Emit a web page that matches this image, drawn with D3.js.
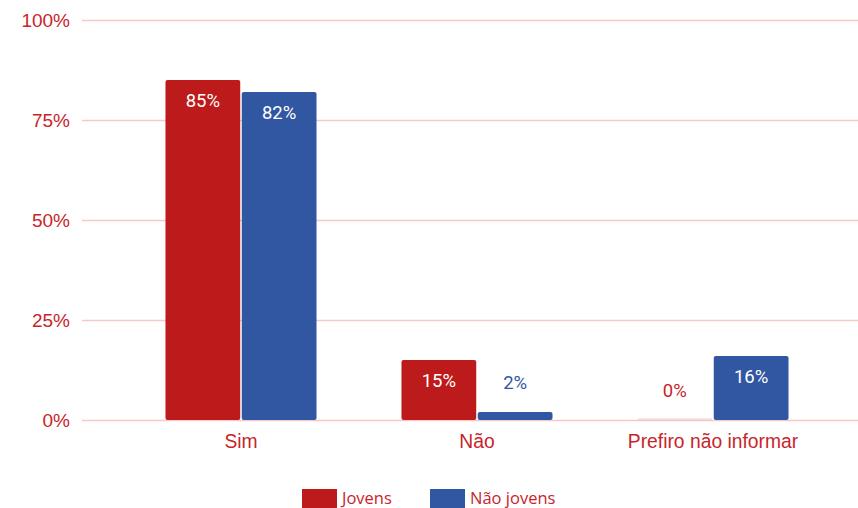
<!DOCTYPE html>
<html><head><meta charset="utf-8">
<script src="https://cdn.jsdelivr.net/npm/d3@7"></script>
<style>body{margin:0;background:#fff}svg{display:block}</style>
</head><body><svg id="c" width="858" height="508"></svg>
<script>
const categories = ["Sim", "Não", "Prefiro não informar"];
const seriesNames = ["Jovens", "Não jovens"];
const jovens = [85, 15, 0];
const naoJovens = [82, 2, 16];
const tickValues = [0, 25, 50, 75, 100];

const colors = ["#bd1b1b", "#3156a2"];
const textRed = "#c8242b";
const svg = d3.select("#c");
const y = d3.scaleLinear().domain([0, 100]).range([420, 20]);
const x0 = d3.scaleBand().domain(categories).range([123, 831]).paddingInner(0.36).paddingOuter(0.18);
const x1 = d3.scaleBand().domain(seriesNames).range([0, x0.bandwidth()]).paddingInner(0.02);

// gridlines
const yAxis = d3.axisLeft(y).tickValues(tickValues).tickFormat(d => d + "%").tickSize(-(858 - 82)).tickPadding(12);
const g = svg.append("g").attr("transform", "translate(82,0)").call(yAxis);
g.select(".domain").remove();
g.selectAll(".tick line").attr("stroke", "#f5c9c9").attr("stroke-width", 1.3);
g.selectAll(".tick text").attr("fill", textRed).style("font-family", "Liberation Sans, Arial, sans-serif").style("font-size", "19px");

const data = categories.map((c, i) => ({cat: c, vals: [jovens[i], naoJovens[i]]}));
const groups = svg.append("g").selectAll("g").data(data).join("g")
  .attr("transform", d => `translate(${x0(d.cat)},0)`);

groups.selectAll("rect").data(d => d.vals.map((v, j) => ({v, s: seriesNames[j], j}))).join("rect")
  .attr("x", d => x1(d.s))
  .attr("width", x1.bandwidth())
  .attr("y", d => d.v > 0 ? y(d.v) : y(0) - 1.5)
  .attr("height", d => d.v > 0 ? y(0) - y(d.v) : 1.5)
  .attr("rx", 2)
  .attr("fill", d => d.v > 0 ? colors[d.j] : "#f2d6d6");

groups.selectAll("text.v").data(d => d.vals.map((v, j) => ({v, s: seriesNames[j], j}))).join("text")
  .attr("class", "v")
  .attr("x", d => x1(d.s) + x1.bandwidth() / 2)
  .attr("y", d => (y(0) - y(d.v)) > 30 ? y(d.v) + 27 : y(d.v) - 23)
  .attr("text-anchor", "middle")
  .attr("fill", d => (y(0) - y(d.v)) > 30 ? "#fff" : d.j === 0 ? textRed : colors[1])
  .style("font-family", "Roboto, sans-serif").style("font-size", "18.5px").style("font-weight", 400)
  .text(d => d.v + "%");

// category labels
svg.append("g").selectAll("text").data(categories).join("text")
  .attr("x", d => x0(d) + x0.bandwidth() / 2)
  .attr("y", 448)
  .attr("text-anchor", "middle")
  .attr("fill", textRed)
  .style("font-family", "Liberation Sans, Arial, sans-serif").style("font-size", "19.3px")
  .text(d => d);

// legend
const legX = [302, 430];
const leg = svg.append("g").selectAll("g").data(seriesNames).join("g")
  .attr("transform", (d, i) => `translate(${legX[i]},489)`);
leg.append("rect").attr("width", 35).attr("height", 19).attr("fill", (d, i) => colors[i]);
leg.append("text").attr("x", 40).attr("y", 15).attr("fill", textRed)
  .style("font-family", "Open Sans, sans-serif").style("font-size", "16.5px")
  .text(d => d);
</script></body></html>
